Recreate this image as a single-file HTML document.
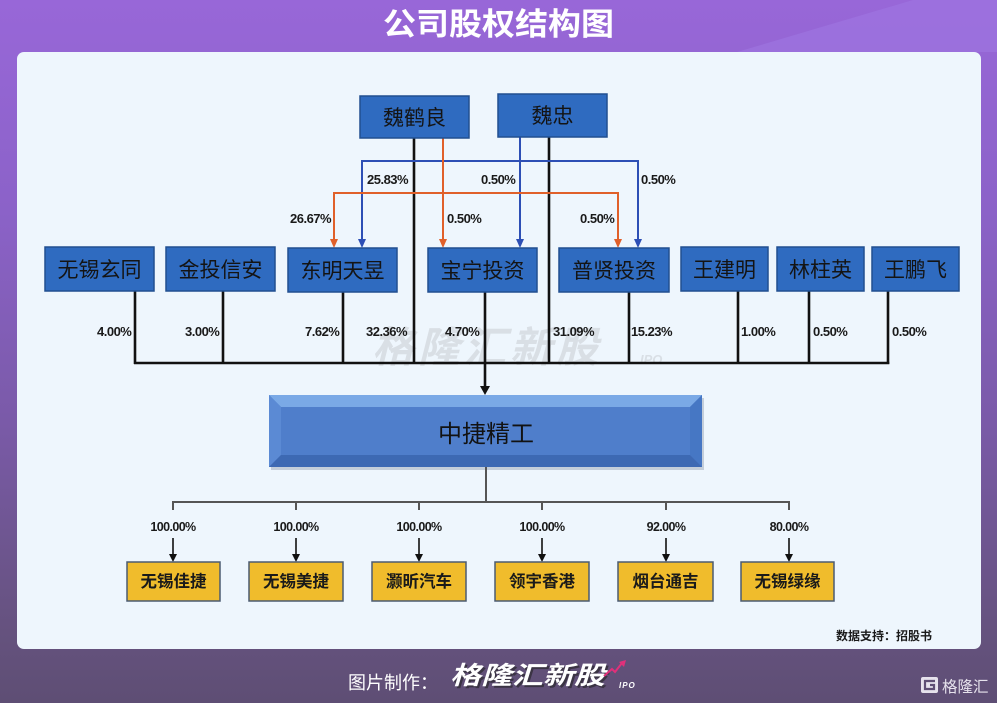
<!DOCTYPE html>
<html><head><meta charset="utf-8"><style>
html,body{margin:0;padding:0;}
body{width:997px;height:703px;overflow:hidden;position:relative;background:linear-gradient(180deg,#9867d8 0%,#8b62c8 30%,#7a5aa8 60%,#65527e 90%,#5e4e74 100%);font-family:"Liberation Sans","Noto Sans CJK SC",sans-serif;}
.card{position:absolute;left:17px;top:52px;width:964px;height:597px;background:#eef6fd;border-radius:7px;}
svg{position:absolute;left:0;top:0;}
</style></head><body>
<div class="card"></div>
<svg width="997" height="703" viewBox="0 0 997 703" xmlns="http://www.w3.org/2000/svg" font-family="Liberation Sans, Noto Sans CJK SC, sans-serif">
<polygon points="737,52 913,0 997,0 997,52" fill="#a27ce6" opacity="0.45"/>
<!-- title -->
<text x="383" y="35" font-size="31" font-weight="bold" fill="#fff" textLength="231" lengthAdjust="spacingAndGlyphs">公司股权结构图</text>

<!-- watermark -->
<text x="372" y="362" font-size="42" font-weight="bold" font-style="italic" fill="#c9cdd3" opacity="0.55" letter-spacing="4">格隆汇新股</text>
<text x="640" y="364" font-size="13" font-weight="bold" font-style="italic" fill="#c9cdd3" opacity="0.55">IPO</text>

<!-- black lines top -->
<g stroke="#111" stroke-width="2.6" fill="none">
<line x1="414" y1="138" x2="414" y2="364"/>
<line x1="549" y1="137" x2="549" y2="364"/>
<line x1="135" y1="291" x2="135" y2="364"/>
<line x1="223" y1="291" x2="223" y2="364"/>
<line x1="343" y1="292" x2="343" y2="364"/>
<line x1="485" y1="292" x2="485" y2="388"/>
<line x1="629" y1="292" x2="629" y2="364"/>
<line x1="738" y1="291" x2="738" y2="364"/>
<line x1="809" y1="291" x2="809" y2="364"/>
<line x1="888" y1="291" x2="888" y2="364"/>
<line x1="134" y1="363" x2="889.3" y2="363"/>
</g>
<path d="M480,386 L490,386 L485,395 Z" fill="#111"/>

<!-- blue connectors -->
<g stroke="#2d4fb5" stroke-width="2" fill="none">
<polyline points="362,240 362,161 638,161 638,240"/>
<line x1="520" y1="137" x2="520" y2="240"/>
</g>
<g fill="#2d4fb5">
<path d="M358,239 L366,239 L362,248 Z"/>
<path d="M516,239 L524,239 L520,248 Z"/>
<path d="M634,239 L642,239 L638,248 Z"/>
</g>
<!-- orange connectors -->
<g stroke="#e0602a" stroke-width="2" fill="none">
<polyline points="334,240 334,193 618,193 618,240"/>
<line x1="443" y1="138" x2="443" y2="240"/>
</g>
<g fill="#e0602a">
<path d="M330,239 L338,239 L334,248 Z"/>
<path d="M439,239 L447,239 L443,248 Z"/>
<path d="M614,239 L622,239 L618,248 Z"/>
</g>

<!-- top boxes -->
<g fill="#2f6bc0" stroke="#214f90" stroke-width="1.5">
<rect x="360" y="96" width="109" height="42"/>
<rect x="498" y="94" width="109" height="43"/>
<rect x="45" y="247" width="109" height="44"/>
<rect x="166" y="247" width="109" height="44"/>
<rect x="288" y="248" width="109" height="44"/>
<rect x="428" y="248" width="109" height="44"/>
<rect x="559" y="248" width="110" height="44"/>
<rect x="681" y="247" width="87" height="44"/>
<rect x="777" y="247" width="87" height="44"/>
<rect x="872" y="247" width="87" height="44"/>
</g>
<g font-size="21" fill="#141414" text-anchor="middle">
<text x="414.5" y="125">魏鹤良</text>
<text x="552.5" y="123">魏忠</text>
<text x="99.5" y="277">无锡玄同</text>
<text x="220.5" y="277">金投信安</text>
<text x="342.5" y="278">东明天昱</text>
<text x="482.5" y="278">宝宁投资</text>
<text x="614" y="278">普贤投资</text>
<text x="724.5" y="277">王建明</text>
<text x="820.5" y="277">林柱英</text>
<text x="915.5" y="277">王鹏飞</text>
</g>

<!-- percentage labels -->
<g font-size="13" font-weight="bold" fill="#1a1a1a" letter-spacing="-0.5">
<text x="367" y="184">25.83%</text>
<text x="481" y="184">0.50%</text>
<text x="641" y="184">0.50%</text>
<text x="290" y="223">26.67%</text>
<text x="447" y="223">0.50%</text>
<text x="580" y="223">0.50%</text>
<text x="97" y="336">4.00%</text>
<text x="185" y="336">3.00%</text>
<text x="305" y="336">7.62%</text>
<text x="366" y="336">32.36%</text>
<text x="445" y="336">4.70%</text>
<text x="553" y="336">31.09%</text>
<text x="631" y="336">15.23%</text>
<text x="741" y="336">1.00%</text>
<text x="813" y="336">0.50%</text>
<text x="892" y="336">0.50%</text>
</g>

<!-- main box bevel -->
<rect x="271" y="398" width="433" height="72" fill="#9aa6b8" opacity="0.5"/>
<rect x="269" y="395" width="433" height="72" fill="#4d7bc9"/>
<polygon points="269,395 702,395 690,407 281,407" fill="#7aa9e6"/>
<polygon points="269,395 281,407 281,455 269,467" fill="#5b8ad4"/>
<polygon points="702,395 702,467 690,455 690,407" fill="#4677c4"/>
<polygon points="269,467 281,455 690,455 702,467" fill="#3d69b3"/>
<rect x="281" y="407" width="409" height="48" fill="#4f7ecb"/>
<text x="486" y="442" text-anchor="middle" font-size="24" fill="#121212">中捷精工</text>

<!-- bottom connectors -->
<g stroke="#555" stroke-width="2" fill="none">
<line x1="486" y1="467" x2="486" y2="502"/>
<line x1="173" y1="502" x2="789" y2="502"/>
<line x1="173" y1="501" x2="173" y2="510"/>
<line x1="296" y1="501" x2="296" y2="510"/>
<line x1="419" y1="501" x2="419" y2="510"/>
<line x1="542" y1="501" x2="542" y2="510"/>
<line x1="666" y1="501" x2="666" y2="510"/>
<line x1="789" y1="501" x2="789" y2="510"/>
</g>
<g stroke="#111" stroke-width="1.6">
<line x1="173" y1="538" x2="173" y2="556"/>
<line x1="296" y1="538" x2="296" y2="556"/>
<line x1="419" y1="538" x2="419" y2="556"/>
<line x1="542" y1="538" x2="542" y2="556"/>
<line x1="666" y1="538" x2="666" y2="556"/>
<line x1="789" y1="538" x2="789" y2="556"/>
</g>
<g fill="#111">
<path d="M169,554 L177,554 L173,562 Z"/>
<path d="M292,554 L300,554 L296,562 Z"/>
<path d="M415,554 L423,554 L419,562 Z"/>
<path d="M538,554 L546,554 L542,562 Z"/>
<path d="M662,554 L670,554 L666,562 Z"/>
<path d="M785,554 L793,554 L789,562 Z"/>
</g>
<g font-size="12.5" font-weight="bold" fill="#1a1a1a" text-anchor="middle" letter-spacing="-0.6">
<text x="173" y="531">100.00%</text>
<text x="296" y="531">100.00%</text>
<text x="419" y="531">100.00%</text>
<text x="542" y="531">100.00%</text>
<text x="666" y="531">92.00%</text>
<text x="789" y="531">80.00%</text>
</g>
<g fill="#f0bc2c" stroke="#4b5b72" stroke-width="1.5">
<rect x="127" y="562" width="93" height="39"/>
<rect x="249" y="562" width="94" height="39"/>
<rect x="372" y="562" width="94" height="39"/>
<rect x="495" y="562" width="94" height="39"/>
<rect x="618" y="562" width="95" height="39"/>
<rect x="741" y="562" width="93" height="39"/>
</g>
<g font-size="16.5" font-weight="bold" fill="#1a1a1a" text-anchor="middle">
<text x="173.5" y="587">无锡佳捷</text>
<text x="296" y="587">无锡美捷</text>
<text x="419" y="587">灏昕汽车</text>
<text x="542" y="587">领宇香港</text>
<text x="665.5" y="587">烟台通吉</text>
<text x="787.5" y="587">无锡绿缘</text>
</g>
<text x="836" y="640" font-size="12" font-weight="bold" fill="#1a1a1a">数据支持：招股书</text>

<!-- footer -->
<text x="348" y="689" font-size="18" fill="#fff">图片制作：</text>
<text x="452" y="686" font-size="25" font-weight="bold" font-style="italic" fill="#222" opacity="0.6" textLength="155" lengthAdjust="spacingAndGlyphs">格隆汇新股</text>
<text x="450" y="684" font-size="25" font-weight="bold" font-style="italic" fill="#fff" textLength="155" lengthAdjust="spacingAndGlyphs">格隆汇新股</text>
<path d="M604,676 L612,669 L615,672 L622,663" stroke="#e0307a" stroke-width="2" fill="none"/>
<path d="M619,662 L626,660 L624,667 Z" fill="#e0307a"/>
<text x="619" y="688" font-size="8" font-weight="bold" font-style="italic" fill="#fff" letter-spacing="1">IPO</text>
<rect x="921" y="677" width="17" height="16" rx="2" fill="#e6e2ec"/>
<path d="M935,681 L925,681 L925,689 L934,689 L934,685 L930,685" stroke="#5e4e74" stroke-width="2.2" fill="none"/>
<text x="942" y="692" font-size="15.5" fill="#e6e2ec">格隆汇</text>
</svg>
</body></html>
